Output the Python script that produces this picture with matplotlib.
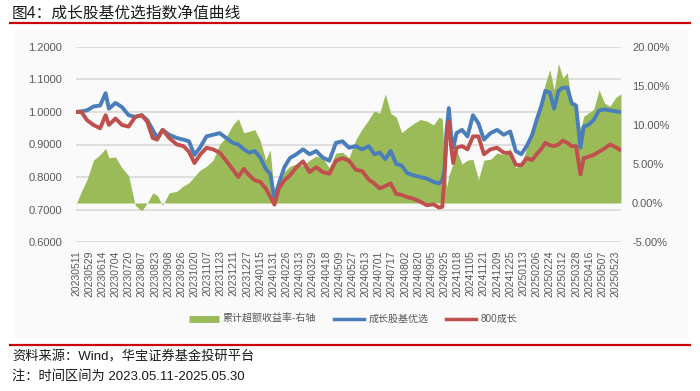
import matplotlib
matplotlib.use("Agg")
import matplotlib.pyplot as plt
from matplotlib.lines import Line2D
from matplotlib.patches import Rectangle
from matplotlib.transforms import blended_transform_factory

plt.rcParams['font.family'] = ['Liberation Sans', 'Noto Sans CJK SC', 'DejaVu Sans']

# ------------------------------------------------------------- data
# trading-day index (0 = 2023-05-11) of each point
days = [0, 5, 10, 16, 22, 27, 30, 36, 42, 48,
        54, 60, 65, 70, 74, 79, 85, 92, 98, 103,
        108, 113, 119, 125, 131, 137, 143, 148, 153, 158,
        163, 168, 173, 177, 181, 185, 190, 195, 201, 207,
        213, 219, 225, 231, 237, 243, 249, 255, 261, 267,
        272, 277, 282, 287, 292, 297, 302, 308, 314, 320,
        326, 331, 334, 336, 338, 340, 342, 344, 347, 352,
        357, 362, 367, 372, 378, 384, 390, 396, 401, 406,
        411, 416, 420, 424, 428, 432, 436, 440, 444, 448,
        452, 456, 460, 463, 467, 472, 477, 482, 487, 492,
        497]

growth_fund = [1.000, 1.002, 1.005, 1.017, 1.020, 1.058, 1.010, 1.028, 1.015, 0.990,
               0.985, 0.990, 0.975, 0.945, 0.920, 0.945, 0.930, 0.920, 0.915, 0.910,
               0.868, 0.890, 0.925, 0.930, 0.935, 0.920, 0.905, 0.900, 0.885, 0.875,
               0.880, 0.860, 0.825, 0.810, 0.735, 0.780, 0.830, 0.858, 0.870, 0.885,
               0.870, 0.880, 0.860, 0.850, 0.905, 0.910, 0.890, 0.895, 0.885, 0.895,
               0.870, 0.875, 0.855, 0.880, 0.840, 0.835, 0.812, 0.805, 0.800, 0.795,
               0.785, 0.780, 0.790, 0.820, 0.945, 1.012, 0.930, 0.889, 0.935, 0.945,
               0.925, 0.990, 0.965, 0.915, 0.935, 0.945, 0.930, 0.940, 0.880, 0.870,
               0.895, 0.930, 0.975, 1.015, 1.065, 1.060, 1.010, 1.065, 1.075, 1.075,
               1.027, 1.020, 0.890, 0.955, 0.960, 0.975, 1.005, 1.008, 1.005, 1.002,
               1.000]

growth_800 = [1.000, 1.000, 0.975, 0.960, 0.950, 0.990, 0.960, 0.980, 0.960, 0.955,
              0.985, 0.990, 0.970, 0.920, 0.915, 0.945, 0.920, 0.900, 0.895, 0.878,
              0.843, 0.868, 0.890, 0.885, 0.875, 0.850, 0.823, 0.800, 0.825, 0.805,
              0.790, 0.785, 0.765, 0.740, 0.715, 0.765, 0.790, 0.805, 0.830, 0.848,
              0.815, 0.830, 0.815, 0.810, 0.850, 0.858, 0.850, 0.823, 0.818, 0.792,
              0.780, 0.765, 0.772, 0.780, 0.748, 0.745, 0.738, 0.733, 0.724, 0.713,
              0.716, 0.706, 0.708, 0.800, 0.930, 0.971, 0.895, 0.843, 0.890, 0.895,
              0.885, 0.925, 0.925, 0.870, 0.885, 0.890, 0.875, 0.874, 0.838, 0.836,
              0.858, 0.852, 0.870, 0.885, 0.905, 0.898, 0.895, 0.900, 0.912, 0.905,
              0.895, 0.895, 0.808, 0.858, 0.862, 0.868, 0.878, 0.888, 0.900, 0.892,
              0.882]

excess_pct = [-0.2, 1.5, 3.0, 5.5, 6.2, 7.0, 5.8, 5.9, 4.5, 3.5,
              -0.3, -1.0, 0.0, 1.3, 1.0, -0.3, 1.3, 1.5, 2.2, 2.6,
              3.4, 4.2, 4.7, 5.5, 7.5, 8.5, 10.0, 10.8, 9.0, 9.2,
              9.4, 8.0, 5.5, 6.8, 1.0, 2.1, 4.0, 4.7, 5.0, 4.8,
              5.5, 6.0, 5.8, 4.5, 6.4, 6.5, 5.8, 8.1, 9.5, 10.7,
              11.8, 11.5, 14.0, 11.5, 11.0, 9.0, 9.6, 10.2, 10.7, 10.5,
              10.0, 11.0, 10.8, 5.5, 2.0, 3.5, 4.3, 5.1, 6.8, 5.0,
              5.5, 5.6, 3.0, 5.5, 5.6, 6.4, 6.2, 7.0, 4.5, 5.0,
              7.0, 9.5, 11.0, 13.0, 15.3, 17.1, 14.5, 17.9, 16.0, 16.7,
              12.8, 12.4, 9.4, 11.1, 11.5, 12.0, 14.5, 12.8, 12.4, 13.5,
              14.0]

tick_labels = ["20230511", "20230529", "20230614", "20230704", "20230720", "20230807",
               "20230823", "20230908", "20230926", "20231020", "20231107", "20231123",
               "20231211", "20231227", "20240115", "20240131", "20240226", "20240313",
               "20240329", "20240418", "20240509", "20240527", "20240613", "20240701",
               "20240717", "20240802", "20240820", "20240905", "20240925", "20241018",
               "20241105", "20241121", "20241209", "20241225", "20250113", "20250206",
               "20250224", "20250312", "20250328", "20250416", "20250507", "20250523"]
tick_step = 12  # trading days between labels
left_ticks = [0.6, 0.7, 0.8, 0.9, 1.0, 1.1, 1.2]
right_ticks = [-5, 0, 5, 10, 15, 20]

GREEN, BLUE, RED = "#9bbb59", "#4a7ebb", "#c0504d"
GRAY = "#595959"

# ------------------------------------------------------------- figure
fig = plt.figure(figsize=(7, 3.91), dpi=100)
fig.patch.set_facecolor("white")
fig.patches.append(Rectangle((15 / 700, 1 - 338 / 391), 673 / 700, 308 / 391,
                             transform=fig.transFigure, facecolor="#fafafa",
                             edgecolor="none", zorder=-5))

ax2 = fig.add_axes([76 / 700, 1 - 242 / 391, 545 / 700, 195 / 391])   # right axis (area)
ax = ax2.twinx()
ax.yaxis.tick_left()
ax2.yaxis.tick_right()
ax2.set_zorder(1)
ax.set_zorder(2)
ax.patch.set_visible(False)
ax2.patch.set_visible(False)

# gridlines (left-axis positions) drawn behind the area
tr = blended_transform_factory(ax2.transAxes, ax.transData)
for v in left_ticks:
    ax2.plot([0, 1], [v, v], transform=tr, color="#d9d9d9", lw=1.2, zorder=0)

ax2.fill_between(days, excess_pct, 0, color=GREEN, lw=0, zorder=1)
ax2.set_ylim(-5, 20)
ax2.set_yticks(right_ticks)
ax2.set_yticklabels([f"{t:.2f}%" for t in right_ticks])

ax.plot(days, growth_fund, color=BLUE, lw=2.8, solid_joinstyle="round")
ax.plot(days, growth_800, color=RED, lw=2.8, solid_joinstyle="round")
ax.set_ylim(0.6, 1.2)
ax.set_yticks(left_ticks)
ax.set_yticklabels([f"{t:.4f}" for t in left_ticks])

ax.set_xlim(0, 497)
ax2.set_xticks([i * tick_step for i in range(len(tick_labels))])
ax2.set_xticklabels(tick_labels, rotation=90)

for a in (ax, ax2):
    for s in a.spines.values():
        s.set_visible(False)
ax.tick_params(axis="y", length=0, pad=10, labelsize=8, labelcolor=GRAY)
ax2.tick_params(axis="y", length=0, pad=8, labelsize=8, labelcolor=GRAY)
ax2.tick_params(axis="x", length=0, pad=6, labelsize=7.5, labelcolor=GRAY)

handles = [Line2D([], [], color=GREEN, lw=5, solid_capstyle="butt"),
           Line2D([], [], color=BLUE, lw=2.5),
           Line2D([], [], color=RED, lw=2.5)]
fig.legend(handles, ["累计超额收益率-右轴", "成长股基优选", "800成长"],
           loc="center", bbox_to_anchor=(353 / 700, 1 - 319 / 391), ncol=3,
           frameon=False, fontsize=7.2, labelcolor=GRAY, handlelength=3,
           handletextpad=0.4, columnspacing=1.8)

# title, rules and source notes
fig.text(12 / 700, 1 - 13 / 391, "图4：成长股基优选指数净值曲线", fontsize=11.3,
         color="#1a1a1a", va="center", ha="left")
fig.add_artist(Line2D([10 / 700, 690 / 700], [1 - 23 / 391] * 2, color="#cc0000", lw=1.6))
fig.add_artist(Line2D([10 / 700, 690 / 700], [1 - 345 / 391] * 2, color="#cc0000", lw=1.6))
fig.text(12 / 700, 1 - 357 / 391, "资料来源：Wind，华宝证券基金投研平台", fontsize=9.5,
         color="#1a1a1a", va="center", ha="left")
fig.text(12 / 700, 1 - 376 / 391, "注：时间区间为 2023.05.11-2025.05.30", fontsize=9.5,
         color="#1a1a1a", va="center", ha="left")

fig.savefig("out.png", dpi=100, facecolor="white")
